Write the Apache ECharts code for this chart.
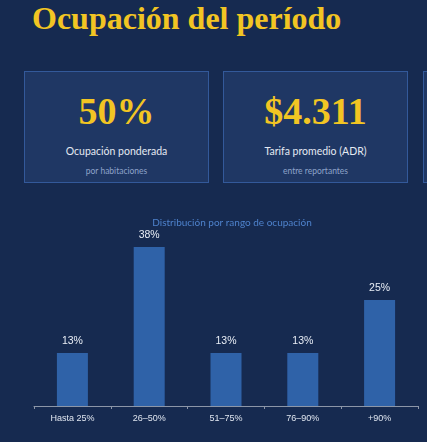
<!DOCTYPE html>
<html>
<head>
<meta charset="utf-8">
<script src="https://cdn.jsdelivr.net/npm/echarts@6/dist/echarts.min.js"></script>
<style>
  html, body { margin: 0; padding: 0; }
  body { width: 427px; height: 442px; background: #162a50; position: relative; overflow: hidden; }
  h1 {
    position: absolute; left: 32px; top: 0px; margin: 0;
    font: bold 32px "Liberation Serif", Georgia, serif; color: #f2c523;
  }
  .card {
    position: absolute; top: 71px; width: 183px; height: 110px;
    background: #1f3764; border: 1px solid #33599a; text-align: center;
  }
  .card .big { position: absolute; left: 0; right: 0; top: 17px; font: bold 38px "Liberation Serif", Georgia, serif; color: #f2c523; }
  .card .lbl { position: absolute; left: 0; right: 0; top: 73px; font: 10.5px Lato, sans-serif; color: #e4e9f2; }
  .card .sub { position: absolute; left: 0; right: 0; top: 94px; font: 8.5px Lato, sans-serif; color: #8ea3c9; }
  #chart { position: absolute; left: 0; top: 200px; width: 427px; height: 242px; }
</style>
</head>
<body>
<h1>Ocupación del período</h1>
<div class="card" style="left:24px"><div class="big">50%</div><div class="lbl">Ocupación ponderada</div><div class="sub">por habitaciones</div></div>
<div class="card" style="left:223px"><div class="big">$4.311</div><div class="lbl">Tarifa promedio (ADR)</div><div class="sub">entre reportantes</div></div>
<div class="card" style="left:423px"></div>
<div id="chart"></div>
<script>
// rangos de ocupacion y porcentaje de hoteles
var rangos = ['Hasta 25%', '26–50%', '51–75%', '76–90%', '+90%'];
var porcentajes = [12.5, 37.5, 12.5, 12.5, 25];

var chart = echarts.init(document.getElementById('chart'));
var option = {
    animation: false,
    title: {
        text: 'Distribución por rango de ocupación',
        left: 227,
        textAlign: 'center',
        top: 13,
        textStyle: { color: '#4e82cc', fontSize: 10, fontWeight: 'normal', fontFamily: 'Lato' }
    },
    grid: { left: 34, right: 9, top: 30, bottom: 36 },
    xAxis: {
        type: 'category',
        data: rangos,
        axisLine: { lineStyle: { color: '#8c96a8', width: 1 } },
        axisTick: { show: true, length: 3, lineStyle: { color: '#8c96a8' } },
        axisLabel: { color: '#dfe5ef', fontSize: 9, fontFamily: 'Liberation Sans', margin: 8 }
    },
    yAxis: {
        type: 'value',
        min: 0,
        max: 41.5,
        show: false,
        splitLine: { show: false }
    },
    series: [{
        type: 'bar',
        data: porcentajes,
        barWidth: 31,
        itemStyle: { color: '#2f62a8' },
        label: {
            show: true,
            position: 'top',
            distance: 6,
            color: '#e8edf5',
            fontSize: 10.5,
            fontFamily: 'Liberation Sans',
            formatter: function (p) {
                return Math.round(p.value) + '%';
            }
        }
    }]
};
chart.setOption(option);
</script>
</body>
</html>
